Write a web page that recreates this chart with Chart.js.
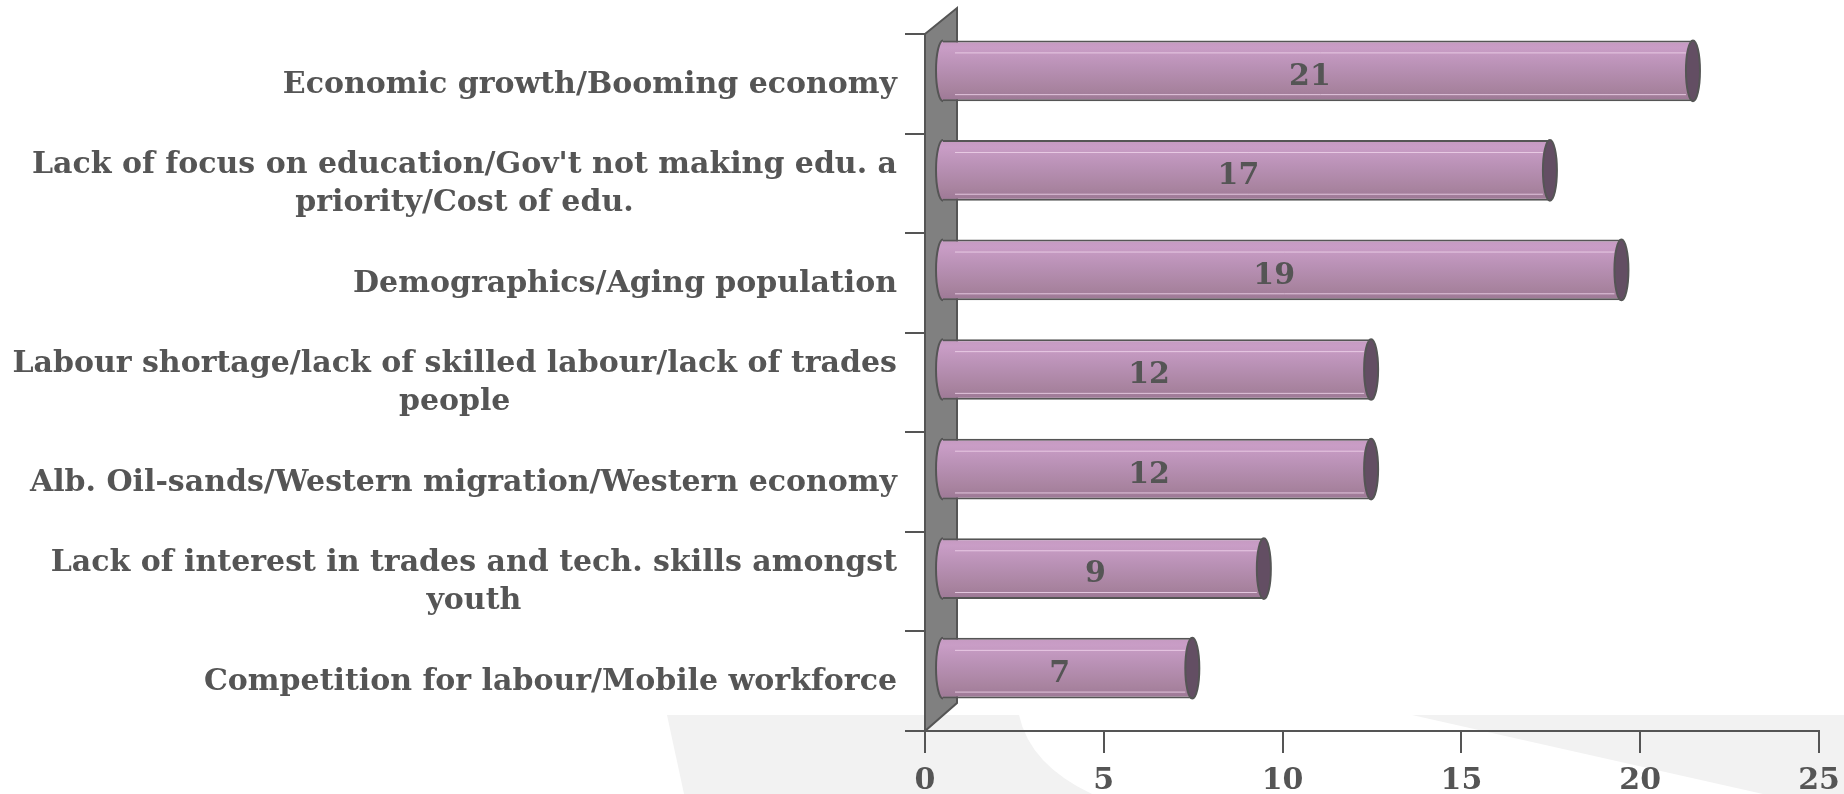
<!DOCTYPE html>
<html>
<head>
<meta charset="utf-8">
<script src="https://cdn.jsdelivr.net/npm/chart.js@4/dist/chart.umd.min.js"></script>
<style>
  html, body { margin: 0; padding: 0; background: #ffffff; overflow: hidden; }
  canvas { display: block; }
</style>
</head>
<body>
<canvas id="chart" width="1844" height="794"></canvas>
<script>
// Reasons given, one entry per bar (each entry is a list of label lines)
const categories = [
  ['Economic growth/Booming economy'],
  ["Lack of focus on education/Gov't not making edu. a", 'priority/Cost of edu.'],
  ['Demographics/Aging population'],
  ['Labour shortage/lack of skilled labour/lack of trades', 'people'],
  ['Alb. Oil-sands/Western migration/Western economy'],
  ['Lack of interest in trades and tech. skills amongst', 'youth'],
  ['Competition for labour/Mobile workforce']
];
const values = [21, 17, 19, 12, 12, 9, 7];
const xTickValues = [0, 5, 10, 15, 20, 25];

const FONT_FAMILY = '"DejaVu Serif", "Liberation Serif", serif';
const FONT_SIZE = 30;
const TEXT_COLOR = '#555555';
const LINE_COLOR = '#555555';
const DEPTH_X = 32;   // depth of the 3D wall
const DEPTH_Y = 26;
const BAR_SHIFT_X = 17; // bars sit halfway into the depth
const BAR_SHIFT_Y = -13;
const CAP_RX = 7;

function barGradient(ctx, top, bottom) {
  const g = ctx.createLinearGradient(0, top, 0, bottom);
  g.addColorStop(0, '#c59ac1');
  g.addColorStop(0.12, '#c99dc6');
  g.addColorStop(0.45, '#b890b4');
  g.addColorStop(0.8, '#a8839f');
  g.addColorStop(1, '#9d7896');
  return g;
}

// light grey decorative swooshes behind the plot
const backdrop = {
  id: 'backdrop',
  beforeDraw(chart) {
    const ctx = chart.ctx;
    ctx.save();
    ctx.fillStyle = '#ffffff';
    ctx.fillRect(0, 0, chart.width, chart.height);
    ctx.fillStyle = '#f2f2f2';
    ctx.beginPath();
    ctx.moveTo(667, 715);
    ctx.lineTo(1019, 715);
    ctx.quadraticCurveTo(1030, 765, 1092, 794);
    ctx.lineTo(684, 794);
    ctx.closePath();
    ctx.fill();
    ctx.beginPath();
    ctx.moveTo(1412, 715);
    ctx.lineTo(1844, 715);
    ctx.lineTo(1844, 794);
    ctx.lineTo(1763, 794);
    ctx.closePath();
    ctx.fill();
    ctx.restore();
  }
};

// 3D wall on the value axis, cylinder ends and value labels
const cylinders = {
  id: 'cylinders',
  beforeDatasetsDraw(chart) {
    const ctx = chart.ctx;
    const a = chart.chartArea;
    ctx.save();
    ctx.fillStyle = '#808080';
    ctx.strokeStyle = LINE_COLOR;
    ctx.lineWidth = 2;
    ctx.beginPath();
    ctx.moveTo(a.left, a.top);
    ctx.lineTo(a.left + DEPTH_X, a.top - DEPTH_Y);
    ctx.lineTo(a.left + DEPTH_X, a.bottom - DEPTH_Y - 2);
    ctx.lineTo(a.left, a.bottom);
    ctx.closePath();
    ctx.fill();
    ctx.stroke();
    ctx.restore();

    const meta = chart.getDatasetMeta(0);
    meta.data.forEach(el => {
      const p = el.getProps(['y', 'height'], true);
      el.options.backgroundColor = barGradient(ctx, p.y - p.height / 2, p.y + p.height / 2);
    });
    ctx.save();
    ctx.translate(BAR_SHIFT_X, BAR_SHIFT_Y);
  },
  afterDatasetsDraw(chart) {
    const ctx = chart.ctx;
    const meta = chart.getDatasetMeta(0);
    meta.data.forEach((el, i) => {
      const p = el.getProps(['x', 'y', 'base', 'height'], true);
      const top = p.y - p.height / 2;
      const bottom = p.y + p.height / 2;
      const ry = p.height / 2;

      // rounded near end
      ctx.beginPath();
      ctx.ellipse(p.base, p.y, CAP_RX, ry, 0, Math.PI / 2, Math.PI * 1.5);
      ctx.fillStyle = barGradient(ctx, top, bottom);
      ctx.fill();
      ctx.strokeStyle = LINE_COLOR;
      ctx.lineWidth = 2;
      ctx.stroke();

      // soft highlight streaks
      ctx.strokeStyle = 'rgba(238, 210, 234, 0.85)';
      ctx.lineWidth = 1;
      ctx.beginPath();
      ctx.moveTo(p.base + 12, top + 12.5);
      ctx.lineTo(p.x - CAP_RX, top + 12.5);
      ctx.moveTo(p.base + 12, bottom - 6.5);
      ctx.lineTo(p.x - CAP_RX, bottom - 6.5);
      ctx.stroke();

      // far end cap
      ctx.beginPath();
      ctx.ellipse(p.x, p.y, CAP_RX, ry, 0, 0, Math.PI * 2);
      ctx.fillStyle = '#634e63';
      ctx.fill();
      ctx.strokeStyle = LINE_COLOR;
      ctx.lineWidth = 2;
      ctx.stroke();

      // value label
      ctx.fillStyle = TEXT_COLOR;
      ctx.font = 'bold ' + FONT_SIZE + 'px ' + FONT_FAMILY;
      ctx.textAlign = 'center';
      ctx.textBaseline = 'middle';
      ctx.fillText(String(values[i]), (p.base + p.x) / 2 - 8, p.y + 6);
    });
    ctx.restore();
  },
  afterDraw(chart) {
    const ctx = chart.ctx;
    const a = chart.chartArea;
    // axis line runs a little past the origin
    ctx.save();
    ctx.strokeStyle = LINE_COLOR;
    ctx.lineWidth = 2;
    ctx.beginPath();
    ctx.moveTo(a.left - 20, a.bottom);
    ctx.lineTo(a.left, a.bottom);
    ctx.stroke();

    // category labels, each line centred on the widest line, block right-aligned
    const yScale = chart.scales.y;
    ctx.fillStyle = TEXT_COLOR;
    ctx.font = 'bold ' + FONT_SIZE + 'px ' + FONT_FAMILY;
    ctx.textAlign = 'center';
    ctx.textBaseline = 'middle';
    const right = a.left - 28;
    const lineH = 38;
    categories.forEach((lines, i) => {
      const cy = yScale.getPixelForTick(i);
      const w = Math.max(...lines.map(l => ctx.measureText(l).width));
      const cx = right - w / 2;
      const y0 = cy - (lines.length - 1) * lineH / 2;
      lines.forEach((l, k) => ctx.fillText(l, cx, y0 + k * lineH + 1));
    });
    ctx.restore();
  }
};

new Chart(document.getElementById('chart'), {
  type: 'bar',
  data: {
    labels: categories,
    datasets: [{
      data: values,
      backgroundColor: () => '#b890b4',
      borderColor: LINE_COLOR,
      borderWidth: 2,
      borderSkipped: 'start',
      barPercentage: 0.61,
      categoryPercentage: 1.0,
      clip: false
    }]
  },
  options: {
    indexAxis: 'y',
    responsive: false,
    animation: false,
    events: [],
    layout: { padding: { top: 34, right: 25, left: 0, bottom: 0 } },
    plugins: {
      legend: { display: false },
      tooltip: { enabled: false }
    },
    scales: {
      x: {
        min: 0,
        max: 25,
        afterBuildTicks(scale) { scale.ticks = xTickValues.map(v => ({ value: v })); },
        afterFit(scale) {
          scale.height = 63;
          scale.paddingLeft = 0;
          scale.paddingRight = 0;
        },
        grid: {
          drawOnChartArea: false,
          drawTicks: true,
          tickLength: 22,
          color: LINE_COLOR,
          lineWidth: 2
        },
        border: { display: true, color: LINE_COLOR, width: 2 },
        ticks: {
          color: TEXT_COLOR,
          font: { family: FONT_FAMILY, size: FONT_SIZE, weight: 'bold' },
          padding: 10,
          maxRotation: 0
        }
      },
      y: {
        afterFit(scale) {
          scale.width = 925;
          scale.paddingTop = 0;
          scale.paddingBottom = 0;
        },
        grid: {
          offset: true,
          drawOnChartArea: false,
          drawTicks: true,
          tickLength: 20,
          color: LINE_COLOR,
          lineWidth: 2
        },
        border: { display: true, color: LINE_COLOR, width: 2 },
        ticks: { display: false }
      }
    }
  },
  plugins: [backdrop, cylinders]
});
</script>
</body>
</html>
